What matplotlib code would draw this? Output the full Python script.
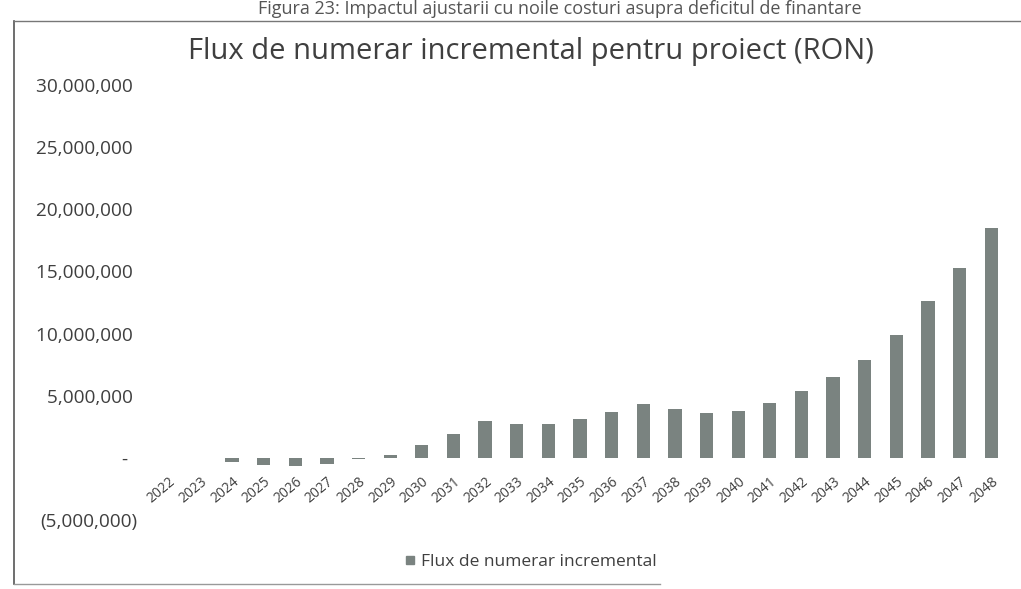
import matplotlib
matplotlib.use("Agg")
import matplotlib.pyplot as plt
import matplotlib.ticker as mticker
from matplotlib.lines import Line2D

# data (RON)
years = [str(y) for y in range(2022, 2049)]
flux = [0, 0, -350_000, -600_000, -650_000, -500_000, -100_000, 250_000,
        1_000_000, 1_950_000, 3_000_000, 2_700_000, 2_750_000, 3_100_000,
        3_700_000, 4_350_000, 3_900_000, 3_600_000, 3_800_000, 4_400_000,
        5_400_000, 6_500_000, 7_900_000, 9_900_000, 12_600_000, 15_300_000,
        18_500_000]
y_ticks = [-5_000_000, 0, 5_000_000, 10_000_000, 15_000_000,
           20_000_000, 25_000_000, 30_000_000]

title = "Flux de numerar incremental pentru proiect (RON)"
caption = "Figura 23: Impactul ajustarii cu noile costuri asupra deficitul de finantare"
series_name = "Flux de numerar incremental"

BAR = "#7a8380"
TXT = "#3f3f3f"
FONT = ["Open Sans", "DejaVu Sans"]

plt.rcParams["font.family"] = FONT

W, H = 1021, 589
fig = plt.figure(figsize=(W / 100, H / 100), dpi=100)
ax = fig.add_axes([153 / W, 1 - 520 / H, (1007 - 153) / W, (520 - 85) / H])

# category labels sit next to the zero line, like Excel does
ax.spines["bottom"].set_position(("data", 0))
for s in ax.spines.values():
    s.set_visible(False)

x = range(len(years))
ax.bar(x, flux, width=0.42, color=BAR, label=series_name)

ax.set_xlim(-0.5, len(years) - 0.5)
ax.set_ylim(-5_000_000, 30_000_000)


def acct(v, pos=None):
    if v == 0:
        return "-  "
    if v < 0:
        return f"({abs(v):,.0f})"
    return f"{v:,.0f} "


ax.yaxis.set_major_locator(mticker.FixedLocator(y_ticks))
ax.yaxis.set_major_formatter(mticker.FuncFormatter(acct))
ax.tick_params(axis="y", length=0, pad=11, labelsize=13.7, labelcolor=TXT)

ax.set_xticks(list(x))
ax.set_xticklabels(years)
ax.tick_params(axis="x", length=0, pad=12, labelsize=10, labelcolor=TXT)
for lab in ax.get_xticklabels():
    lab.set_rotation(40)
    lab.set_ha("right")
    lab.set_rotation_mode("anchor")

fig.text(531 / W, 1 - 52 / H, title, ha="center", va="center",
         fontsize=21, color=TXT)
fig.text(560 / W, 1 - 14 / H, caption, ha="center", va="baseline",
         fontsize=13, color="#555555")

handle = Line2D([], [], marker="s", color="none", markerfacecolor=BAR,
                markeredgecolor=BAR, markersize=6)
fig.legend([handle], [series_name], loc="center",
           bbox_to_anchor=(530 / W, 1 - 562 / H), frameon=False,
           fontsize=12.5, labelcolor=TXT, handletextpad=0.2,
           handlelength=0.8)

# frame of the pasted chart
fig.add_artist(Line2D([14 / W, 14 / W], [1 - 21 / H, 1 - 584 / H],
                      color="#555555", lw=1.2))
fig.add_artist(Line2D([14 / W, 1.0], [1 - 21 / H, 1 - 21 / H],
                      color="#777777", lw=1.0))
fig.add_artist(Line2D([14 / W, 660 / W], [1 - 584 / H, 1 - 584 / H],
                      color="#999999", lw=1.0))

fig.savefig("out.png", dpi=100)
